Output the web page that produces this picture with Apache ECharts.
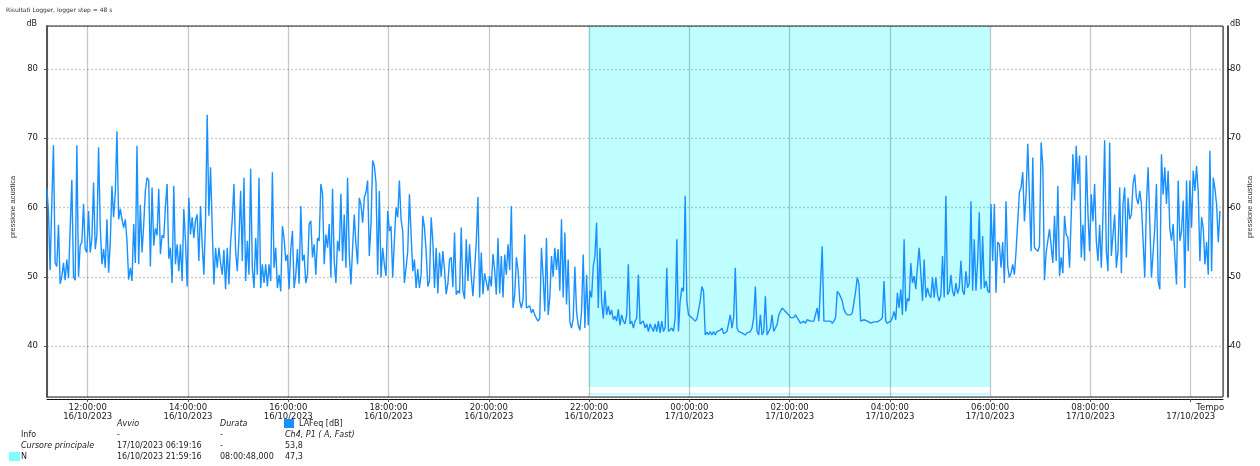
<!DOCTYPE html>
<html><head><meta charset="utf-8">
<script src="https://cdn.jsdelivr.net/npm/echarts@6/dist/echarts.min.js"></script>
<style>html,body{margin:0;padding:0;background:#fff}#c{width:1260px;height:466px}</style>
</head><body><div id="c"></div>
<script>
// ---- data ----
const chartTitle = 'Risultati Logger, logger step = 48 s';
const seriesName = 'LAFeq [dB]';
const startHour = 11 + 11/60;      // 16/10/2023 11:11 (hours from 16/10 00:00)
const stepMin = 2;                  // values read every 2 minutes
const h11 = [62.8,59.5,51,60.5,69,52,51.5,57.5,49,50,52,49.5,52.5,49.8,50,64,50,49.5,69,50,54.5,55,60.5,54,53.5];
const h12 = [59.5,53.5,55.5,63.6,54,56,68.7,57.3,51.8,54,51.3,58.3,50.6,55,63.1,58.6,62,71,58.3,59.8,58.3,57.1,58.3,55.2,49.6,51.3,49.4,57.6,52,68.9];
const h13 = [51.8,60.4,53.5,57.5,62.4,64.3,63.9,51.5,62.9,54.5,57,56,62.7,53.3,56,55.6,60.1,63.4,52.6,54.2,49.1,63.1,51.8,54.7,50.8,54.7,49.4,59.8,55.2,48.6];
const h14 = [61.4,56.1,58.6,55.6,58.1,59,52.3,60.2,54.7,50.3,58.1,73.4,58.8,65.8,57.1,48.9,54.2,51.3,54.2,52,50.3,53.9,48.2,54.2,48.9,55,58.3,63.4,53.7,50.8];
const h15 = [55.6,62.4,52.3,64.3,49.4,55.2,50.3,65.6,51.3,48.4,55.6,50.3,64.3,48.4,51.8,49.1,51.8,48.6,51.8,49.4,65.1,51.3,54.2,48.4,50.3,47.9,57.3,55.6,52.3,53.2];
const h16 = [48.2,54,56.6,48.4,50.3,54,49,60.2,52.3,53.2,49.1,50.3,57.6,58.1,52.8,54.7,50.3,55.6,55.2,63.4,62,51.8,56.1,54.2,57.6,49.9,62.7,52.3,49.1,55.2];
const h17 = [53.7,62,52.3,59,51.3,64.3,53.2,48.9,54.2,59,54.7,51.8,61.4,60.4,57.8,61.4,62.2,63.9,53,57.6,66.8,66,63.6,50.3,62.4,49.9,54.2,51.8,50.1,59.5];
const h18 = [56.6,57.3,49.9,55.2,60,58.6,63.9,58.3,56.6,49.1,51.3,53.7,61.9,56.1,50.8,52.5,48.4,51.1,48.4,50.3,58.8,57.1,53.7,48.6,49.4,58.6,55.2,48.4,54.2,47.6];
const h19 = [53.5,50,53.7,51,47.5,49,52.5,52.8,48.5,56.4,47.4,48,47.6,57.1,48,46.8,55.4,49.4,54.7,50,47.2,47,55,61.5,47,53.5,47.5,50.5,49.3,48];
const h20 = [50.1,48.6,53.3,51,47.4,55.6,47.6,53,47,53.2,50.3,54.7,51,60.2,45.5,47.4,52.8,51,46.5,45.5,46.8,56.1,45.5,45.3,45.8,44.8,45.3,44.5,44,43.6];
const h21 = [44,54.2,50,45,55.6,44.5,47,53,50,54.2,51,54,48,58.3,47,56.4,46,52.5,43.5,42.6,44,51.5,45,43,42.3,45,53.2,42.6,50.3,43];
const h22 = [48,47,51.5,53,57.8,45.5,54.2,46.5,44,48,44.5,45.8,44.5,45.2,43.8,44.3,43.6,45.3,43,44.5,43.6,43.2,44.5,51.8,43.2,43.6,42.6,43.6,44,50.3];
const h23 = [43.2,43,43.6,42.6,43.2,42.1,43.2,43.3,42.1,43.2,42.1,43.6,41.9,43.6,42.1,42.6,51.3,42.1,41.9,42.6,42.1,44,55.4,42.1,46.5,48.4,47.9,61.7,46.5,44.5];
const h00 = [44.5,44.1,43.9,43.6,43.9,44.1,46.5,48.6,47.9,41.6,42,41.6,42.1,41.6,42.1,41.6,42.1,42.1,42.3,42.6,41.8,41.6,42.1,42.1,44.5,42.6,44.1,51.3,42.6,42.1];
const h01 = [42.1,41.9,41.9,41.6,41.9,42.1,42.1,42.6,44.1,48.6,42.1,41.6,44.5,41.6,42.1,47.2,41.6,42.1,42.6,44.5,42.1,42.6,43.1,44.5,45,45.5,45.3,45,45,44.5];
const h02 = [44.1,44.3,44.1,44.5,44.1,44.1,43.3,43.1,43.6,43.3,43.8,43.6,43.6,43.6,43.6,43.8,45.5,43.6,43.6,54.4,43.6,43.6,43.6,43.6,43.6,43.3,43.6,44.1,47.9,47.6];
const h03 = [47.1,46.5,45.3,44.8,44.5,44.3,44.5,44.8,45,47.9,49.9,48.9,43.6,43.6,43.8,43.6,43.6,43.5,43.3,43.3,43.5,43.5,43.5,43.3,43.8,44.1,49.4,43.6,43.3,43.3];
const h04 = [43.6,44.1,45,43.8,47.7,45.5,48.2,44.5,55.4,45,46.9,46.5,52,49.1,50.1,48.2,51.5,54.2,50.5,46.5,52.5,47,48.4,47.4,47,49.9,47,49.9,47.4,46.5];
const h05 = [47.4,53,47,61.7,47.4,47.9,50.3,47.9,47.2,49.1,47.6,48.4,52.3,48,47.4,50.8,48.4,49.1,60.9,48,55.4,48,52.3,59.3,48.2,55.9,48.4,49.4,48,47.7];
const h06 = [60.5,52.3,60.5,47.7,55,54.7,51.3,55,49.1,60.9,51.5,49.9,50.6,51.8,50.3,53.7,58,62.2,62.9,65.1,58,61.9,69.2,61.4,53.7,67.2,54.2,54,53.7,54.4];
const h07 = [69.4,66,49.5,53.5,53.7,56.9,56.9,52,58.8,52.3,63.1,50.1,52.8,50.5,58.8,56.1,55.7,51.3,58.8,67.7,61,68.9,63.4,67.5,52.8,57.5,52.3,67.5,59.3,53.7];
const h08 = [61.9,58,63.4,55.2,52.3,57.5,51.3,59,69.7,53.7,50.8,69.4,53,56.1,59,51.3,53.7,62.9,50.5,60.5,62.9,52.8,61.4,58.3,59,63.4,64.8,61.4,60.5,62.4];
const h09 = [60.5,60.5,49.9,60.5,65.8,58.1,49.9,49.9,57.1,63.4,49.4,48.2,67.7,61.9,65.8,60.5,65.3,57,55.2,57.6,53.2,48.9,63.9,55.2,56.6,61,48.4,63.9,53.7,63.9];
const h10 = [57.1,65.3,62.4,66,62.2,52.3,58.6,57,51.8,55,50.3,68.2,50.8,64.3,62.7,60.4,55,59.5];

const yTicks = [40, 50, 60, 70, 80];
const periodN = { start: 21 + 59/60 + 16/3600, durationH: 8 + 48/3600 };  // 16/10/2023 21:59:16, 08:00:48
const tableHead = ['Avvio', 'Durata'];
const rowInfo = ['Info', '-', '-', 'Ch4, P1 ( A, Fast)'];
const rowCursor = ['Cursore principale', '17/10/2023 06:19:16', '-', '53,8'];
const rowN = ['N', '16/10/2023 21:59:16', '08:00:48,000', '47,3'];

// ---- build ----
const values = [].concat(h11,h12,h13,h14,h15,h16,h17,h18,h19,h20,h21,h22,h23,h00,h01,h02,h03,h04,h05,h06,h07,h08,h09,h10);
const data = values.map((v, i) => [startHour + i * stepMin / 60, v]);
const pad = n => (n < 10 ? '0' : '') + n;
const FONT = 'DejaVu Sans';
const X_MIN = 11.188, X_MAX = 34.644, Y_MIN = 32.65, Y_MAX = 86.2;

function xLabel(v) {
  if (Math.abs(v / 2 - Math.round(v / 2)) > 1e-6) return '';
  const day = v < 24 ? '16/10/2023' : '17/10/2023';
  if (Math.round(v) === 34) return '{t|Tempo}\n' + day;
  const h = Math.round(v) % 24;
  return pad(h) + ':00:00\n' + day;
}
function yLabel(v) { return yTicks.indexOf(Math.round(v * 100) / 100) >= 0 ? String(v) : ''; }

const chart = echarts.init(document.getElementById('c'), null, { renderer: 'canvas' });
const txt = (x, y, s, extra) => Object.assign({ type: 'text', x: x, y: y, style: Object.assign({ text: s, font: '8px "' + FONT + '"', fill: '#222', textVerticalAlign: 'middle' }, extra || {}) });
const ital = { font: 'italic 8px "' + FONT + '"' };

chart.setOption({
  animation: false,
  backgroundColor: '#fff',
  textStyle: { fontFamily: FONT },
  title: { text: chartTitle, left: 6, top: 7, padding: 0, textStyle: { fontSize: 6, fontWeight: 'normal', color: '#333', fontFamily: FONT } },
  grid: { left: 47, right: 37, top: 26, bottom: 69, show: true, borderColor: '#222', borderWidth: 1, z: 3 },
  legend: { data: [seriesName], left: 284, top: 419, icon: 'rect', itemWidth: 10, itemHeight: 9, itemGap: 4,
            textStyle: { fontSize: 8, color: '#222', fontFamily: FONT }, padding: 0 },
  xAxis: {
    type: 'value', min: X_MIN, max: X_MAX, minInterval: 2, maxInterval: 2, z: 3,
    axisLine: { show: true, lineStyle: { color: '#111', width: 1 } }, offset: 2,
    axisTick: { show: true, length: 3, lineStyle: { color: '#555' } },
    axisLabel: { formatter: xLabel, showMinLabel: false, showMaxLabel: false, fontSize: 8.5, lineHeight: 9, color: '#222', margin: 4, fontFamily: FONT,
                 rich: { t: { padding: [0, 0, 0, 39], fontSize: 8.5, fontFamily: FONT, color: '#222' } } },
    splitLine: { show: true, lineStyle: { color: 'rgba(0,0,0,0.22)', width: 1.3 } }
  },
  yAxis: [{
    type: 'value', position: 'left', min: Y_MIN, max: Y_MAX, minInterval: 10, maxInterval: 10, z: 3,
    axisLine: { show: true, lineStyle: { color: '#555', width: 2 } },
    axisTick: { show: true, length: 3, lineStyle: { color: '#555' } },
    axisLabel: { formatter: yLabel, showMinLabel: false, showMaxLabel: false, fontSize: 8.5, color: '#222', margin: 9, fontFamily: FONT },
    splitLine: { show: true, lineStyle: { color: 'rgba(0,0,0,0.2)', type: [2, 2], width: 1.3 } }
  }, {
    type: 'value', position: 'right', offset: 5, min: Y_MIN, max: Y_MAX, minInterval: 10, maxInterval: 10, z: 3,
    axisLine: { show: true, lineStyle: { color: '#111', width: 1.5 } },
    axisTick: { show: true, length: 3, inside: false, lineStyle: { color: '#111' } },
    axisLabel: { formatter: yLabel, showMinLabel: false, showMaxLabel: false, fontSize: 8.5, color: '#222', margin: 2, fontFamily: FONT },
    splitLine: { show: false }
  }],
  series: [{
    name: 'N', type: 'line', data: [], z: 1, silent: true,
    markArea: { silent: true, itemStyle: { color: '#c0ffff' }, data: [
      [{ xAxis: periodN.start, yAxis: 34.1 }, { xAxis: periodN.start + periodN.durationH, yAxis: Y_MAX }],
      [{ xAxis: periodN.start, yAxis: 32.94 }, { xAxis: periodN.start + periodN.durationH, yAxis: 33.27 }]
    ] }
  }, {
    name: seriesName, type: 'line', data: data, z: 5, showSymbol: false, symbol: 'none',
    color: '#1890ff', lineStyle: { color: '#1890ff', width: 1.4 }
  }],
  graphic: [
    txt(37, 24, 'dB', { textAlign: 'right', font: '8px "' + FONT + '"' }),
    txt(1230, 24, 'dB', { font: '8px "' + FONT + '"' }),
    { type: 'text', x: 13, y: 207, rotation: Math.PI / 2, style: { text: 'pressione acustica', font: '7.5px "Liberation Sans"', fill: '#333', textAlign: 'center', textVerticalAlign: 'middle' } },
    { type: 'text', x: 1250, y: 207, rotation: Math.PI / 2, style: { text: 'pressione acustica', font: '7.5px "Liberation Sans"', fill: '#333', textAlign: 'center', textVerticalAlign: 'middle' } },
    txt(117, 424, tableHead[0], ital),
    txt(220, 424, tableHead[1], ital),
    txt(21, 435, rowInfo[0]), txt(117, 435, rowInfo[1]), txt(220, 435, rowInfo[2]), txt(285, 435, rowInfo[3], ital),
    txt(21, 446, rowCursor[0], ital), txt(117, 446, rowCursor[1]), txt(220, 446, rowCursor[2]), txt(285, 446, rowCursor[3]),
    { type: 'rect', shape: { x: 9, y: 452, width: 11, height: 9 }, style: { fill: '#80ffff' } },
    txt(21, 457, rowN[0]), txt(117, 457, rowN[1]), txt(220, 457, rowN[2]), txt(285, 457, rowN[3])
  ]
});
</script>
</body></html>
